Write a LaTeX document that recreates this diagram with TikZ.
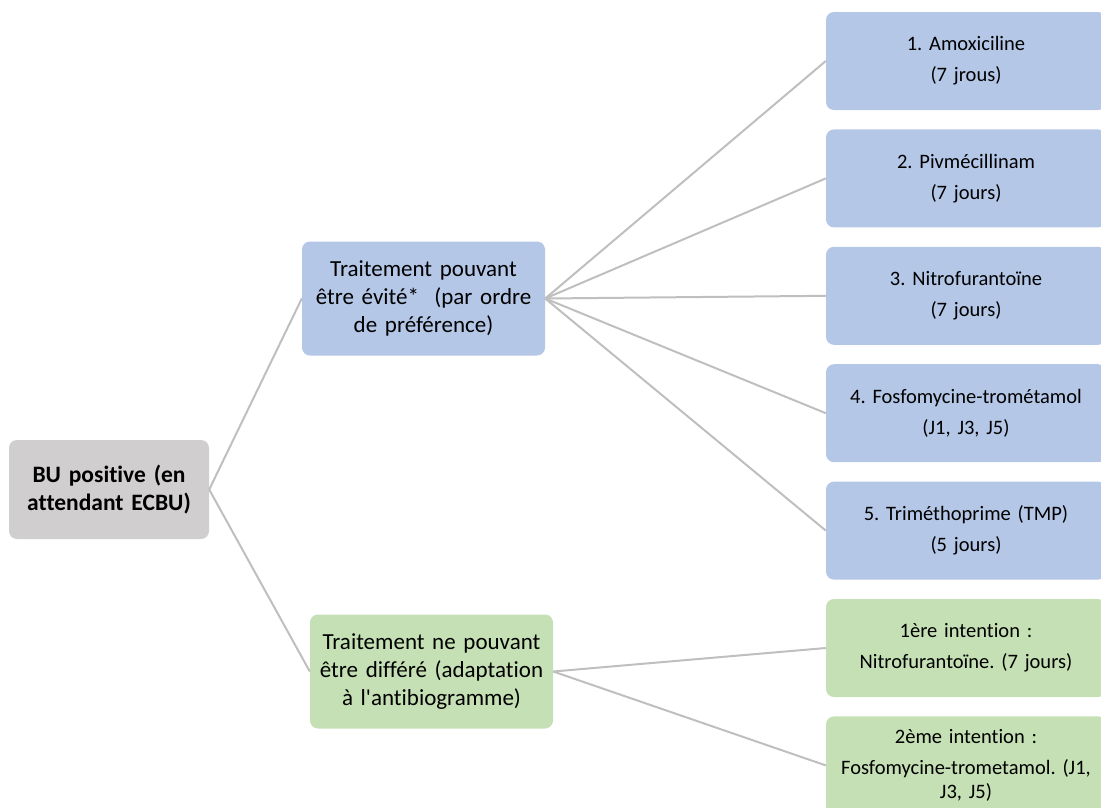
\documentclass[tikz,border=0pt]{standalone}
\usepackage{fontspec}
\setmainfont{Carlito}[Ligatures={TeX,NoCommon}]
\usepackage{xcolor}
\usepackage{tikz}
\usetikzlibrary{positioning}
\frenchspacing
\definecolor{rootgray}{HTML}{D0CECE}
\definecolor{avoidblue}{HTML}{B4C7E7}
\definecolor{urgentgreen}{HTML}{C5E0B4}
\definecolor{linkgray}{HTML}{BFBFBF}
\tikzstyle{root} = [rectangle, rounded corners=8pt, minimum width=200pt, minimum height=99pt, text width=190pt, inner xsep=2pt, align=center, fill=rootgray, font=\fontsize{23.5}{28}\selectfont\bfseries]
\tikzstyle{branch} = [rectangle, rounded corners=8pt, minimum width=243pt, minimum height=114pt, text width=239pt, inner xsep=1pt, align=center, font=\fontsize{23}{28}\selectfont]
\tikzstyle{drug} = [rectangle, rounded corners=8pt, minimum width=280pt, minimum height=98pt, text width=274pt, inner xsep=2pt, align=center, font=\fontsize{20.5}{24}\selectfont]
\tikzstyle{link} = [draw=linkgray, line width=2pt]
\begin{document}
\begin{tikzpicture}[x=1pt, y=-1pt, node distance=19pt]
    \useasboundingbox (0,0) rectangle (1101,807);
    \clip (0,0) rectangle (1101,807);
    \node (bu) [root] at (109,489.5) {BU positive (en\\attendant ECBU)};
    \node (avoid) [branch, fill=avoidblue] at (423.5,298.5) {Traitement pouvant\\être évité*\ \ (par ordre\\de préférence)};
    \node (urgent) [branch, fill=urgentgreen] at (431.5,671.5) {Traitement ne pouvant\\être différé (adaptation\\à l\textquotesingle antibiogramme)};

    \node (amox) [drug, fill=avoidblue] at (966,61) {1. Amoxiciline\\[7pt](7 jrous)};
    \node (pivm) [drug, fill=avoidblue, below=of amox] {2. Pivmécillinam\\[7pt](7 jours)};
    \node (nitro) [drug, fill=avoidblue, below=of pivm] {3. Nitrofurantoïne\\[7pt](7 jours)};
    \node (fosfo) [drug, fill=avoidblue, below=of nitro] {4. Fosfomycine-trométamol\\[7pt](J1, J3, J5)};
    \node (trim) [drug, fill=avoidblue, below=of fosfo] {5. Triméthoprime (TMP)\\[7pt](5 jours)};
    \node (first) [drug, fill=urgentgreen, below=of trim] {1ère intention :\\[7pt]Nitrofurantoïne. (7 jours)};
    \node (second) [drug, fill=urgentgreen, below=of first] {2ème intention :\\[7pt]Fosfomycine-trometamol. (J1,\\J3, J5)};

    \draw [link] (bu.east) -- (avoid.west);
    \draw [link] (bu.east) -- (urgent.west);
    \draw [link] (avoid.east) -- (amox.west);
    \draw [link] (avoid.east) -- (pivm.west);
    \draw [link] (avoid.east) -- (nitro.west);
    \draw [link] (avoid.east) -- (fosfo.west);
    \draw [link] (avoid.east) -- (trim.west);
    \draw [link] (urgent.east) -- (first.west);
    \draw [link] (urgent.east) -- (second.west);
\end{tikzpicture}
\end{document}
